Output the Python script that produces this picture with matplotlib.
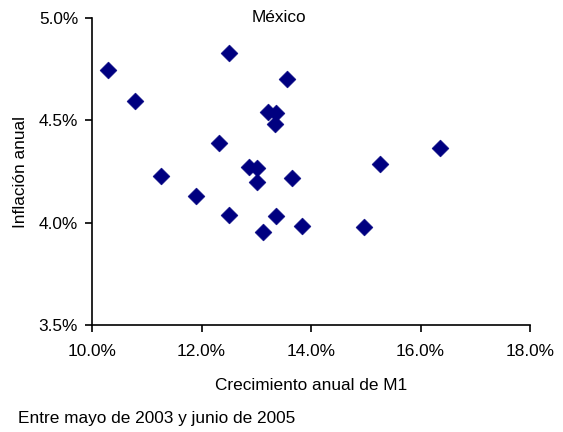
import matplotlib
matplotlib.use("Agg")
import matplotlib.pyplot as plt
from matplotlib.ticker import FuncFormatter

# Monthly observations, May 2003 - June 2005 (percent)
m1_growth = [10.29, 10.79, 11.26, 11.90, 12.32, 12.50, 12.51, 12.87, 13.02,
             13.02, 13.13, 13.22, 13.36, 13.34, 13.36, 13.57, 13.66, 13.83,
             14.96, 15.26, 16.35]
inflation = [4.746, 4.595, 4.230, 4.132, 4.389, 4.039, 4.828, 4.274, 4.269,
             4.200, 3.956, 4.542, 4.537, 4.482, 4.034, 4.700, 4.218, 3.985,
             3.981, 4.286, 4.366]

x_ticks = [10, 12, 14, 16, 18]
y_ticks = [3.5, 4.0, 4.5, 5.0]

plt.rcParams["font.family"] = ["Liberation Sans", "DejaVu Sans"]
FS = 12.4

W, H = 563, 432
fig = plt.figure(figsize=(W / 100, H / 100), dpi=100)
ax = fig.add_axes([92 / W, 1 - 325 / H, (530 - 92) / W, (325 - 18) / H])

ax.scatter(m1_growth, inflation, marker="D", s=8.6 ** 2, color="#000080",
           edgecolors="#000080", linewidths=0.4, zorder=3)

ax.set_xlim(10, 18)
ax.set_ylim(3.5, 5.0)
ax.set_xticks(x_ticks)
ax.set_yticks(y_ticks)
ax.xaxis.set_major_formatter(FuncFormatter(lambda v, _: f"{v:.1f}%"))
ax.yaxis.set_major_formatter(FuncFormatter(lambda v, _: f"{v:.1f}%"))

for side in ("top", "right"):
    ax.spines[side].set_visible(False)
for side in ("left", "bottom"):
    ax.spines[side].set_linewidth(1.2)
    ax.spines[side].set_color("black")
ax.tick_params(direction="out", length=5, width=1.2, labelsize=FS,
               colors="black")
ax.tick_params(axis="x", pad=9)
ax.tick_params(axis="y", pad=5)

ax.set_xlabel("Crecimiento anual de M1", fontsize=FS, labelpad=13)
ax.set_ylabel("Inflación anual", fontsize=FS, labelpad=8)

fig.text(279 / W, 1 - 17 / H, "México", ha="center", va="center", fontsize=FS)
fig.text(18 / W, 1 - 419 / H, "Entre mayo de 2003 y junio de 2005",
         ha="left", va="center", fontsize=FS)

fig.savefig("out.png", dpi=100, facecolor="white")
